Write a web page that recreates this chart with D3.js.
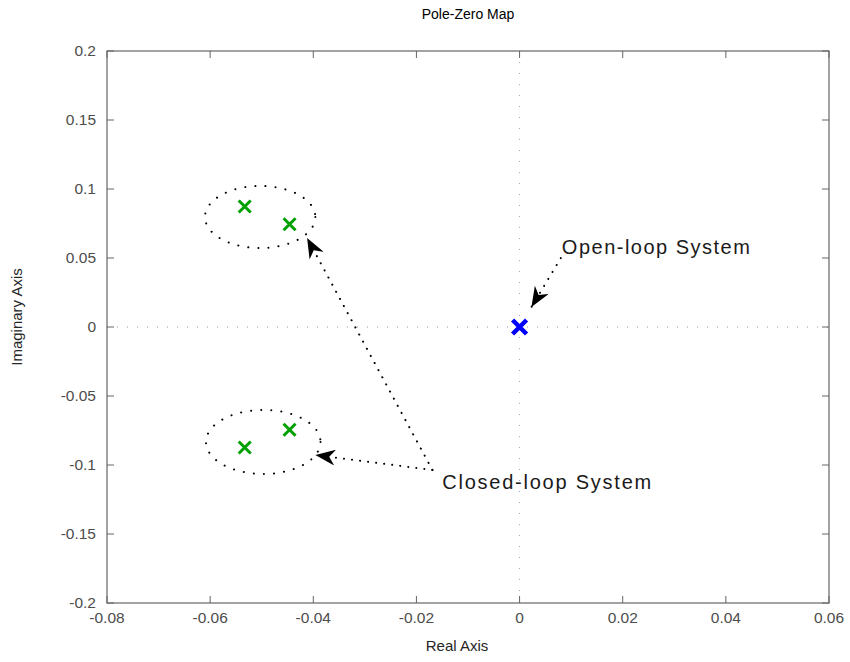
<!DOCTYPE html>
<html lang="en">
<head>
<meta charset="UTF-8">
<title>Pole-Zero Map</title>
<script src="https://d3js.org/d3.v7.min.js"></script>
<style>
  body { margin: 0; background: #fff; }
  svg { font-family: "Liberation Sans", Arial, Helvetica, sans-serif; }
  .tick-label { fill: #4d4d4d; font-size: 15.5px; }
  .axis-label { fill: #262626; font-size: 15px; }
</style>
</head>
<body>
<svg id="chart" width="850" height="662"></svg>
<script>
// closed-loop poles (green) and open-loop poles (blue)
var closedRe = [-0.0533, -0.0446, -0.0533, -0.0446];
var closedIm = [0.0873, 0.0745, -0.0873, -0.0745];
var openRe = [0];
var openIm = [0];

// ticks
var xTicks = [-0.08, -0.06, -0.04, -0.02, 0, 0.02, 0.04, 0.06];
var yTicks = [-0.2, -0.15, -0.1, -0.05, 0, 0.05, 0.1, 0.15, 0.2];

// dotted ellipses round the closed-loop pole pairs (centre, radii in data units)
var ellCx = [-0.0503, -0.0497];
var ellCy = [0.0797, -0.0833];
var ellRx = [0.0107, 0.0111];
var ellRy = [0.0225, 0.0232];

// annotation arrows: from (x1,y1) to (x2,y2)
var arrX1 = [-0.0169, -0.0169, 0.0080];
var arrY1 = [-0.1036, -0.1036, 0.0500];
var arrX2 = [-0.0412, -0.0396, 0.0023];
var arrY2 = [0.0645, -0.0928, 0.0145];

// annotation texts
var noteText = ["Open-loop System", "Closed-loop System"];
var noteX = [0.0082, -0.0150];
var noteY = [0.0530, -0.1174];

var svg = d3.select("#chart");
var margin = {left: 107, right: 21, top: 51, bottom: 59};
var W = 850 - margin.left - margin.right,
    H = 662 - margin.top - margin.bottom;

var x = d3.scaleLinear().domain([-0.08, 0.06]).range([0, W]);
var y = d3.scaleLinear().domain([-0.2, 0.2]).range([H, 0]);

var g = svg.append("g").attr("transform", "translate(" + margin.left + "," + margin.top + ")");

var defs = svg.append("defs");
defs.append("marker")
    .attr("id", "head")
    .attr("viewBox", "0 0 20 16")
    .attr("refX", 20).attr("refY", 8)
    .attr("markerWidth", 20).attr("markerHeight", 16)
    .attr("markerUnits", "userSpaceOnUse")
    .attr("orient", "auto")
  .append("path")
    .attr("d", "M0,0 L20,8 L0,16 L6,8 Z")
    .attr("fill", "#000");

// background
g.append("rect").attr("width", W).attr("height", H).attr("fill", "#fff");

// zero lines
g.append("line")
    .attr("x1", 0).attr("x2", W).attr("y1", y(0)).attr("y2", y(0))
    .attr("stroke", "#9a9a9a").attr("stroke-width", 1).attr("stroke-dasharray", "1,9");
g.append("line")
    .attr("x1", x(0)).attr("x2", x(0)).attr("y1", 0).attr("y2", H)
    .attr("stroke", "#9a9ac0").attr("stroke-width", 1).attr("stroke-dasharray", "1,10");

// axes with inward ticks on all four sides
var tickLen = 7;
var axisColor = "#666";
var frame = g.append("g");
frame.append("rect").attr("width", W).attr("height", H)
    .attr("fill", "none").attr("stroke", axisColor).attr("stroke-width", 1.2);

xTicks.forEach(function(t) {
  frame.append("line").attr("x1", x(t)).attr("x2", x(t)).attr("y1", H).attr("y2", H - tickLen)
      .attr("stroke", axisColor);
  frame.append("line").attr("x1", x(t)).attr("x2", x(t)).attr("y1", 0).attr("y2", tickLen)
      .attr("stroke", axisColor);
});
yTicks.forEach(function(t) {
  frame.append("line").attr("x1", 0).attr("x2", tickLen).attr("y1", y(t)).attr("y2", y(t))
      .attr("stroke", axisColor);
  frame.append("line").attr("x1", W).attr("x2", W - tickLen).attr("y1", y(t)).attr("y2", y(t))
      .attr("stroke", axisColor);
});

var fmt = function(t) { return t === 0 ? "0" : String(+t.toFixed(2)); };

g.selectAll(".xlab").data(xTicks).enter().append("text")
    .attr("class", "tick-label")
    .attr("x", function(d) { return x(d); })
    .attr("y", H + 20)
    .attr("text-anchor", "middle")
    .text(fmt);

g.selectAll(".ylab").data(yTicks).enter().append("text")
    .attr("class", "tick-label")
    .attr("x", -11)
    .attr("y", function(d) { return y(d) + 5; })
    .attr("text-anchor", "end")
    .text(fmt);

// titles
svg.append("text")
    .attr("x", margin.left + W / 2).attr("y", 19)
    .attr("text-anchor", "middle")
    .attr("font-size", 14).attr("fill", "#000")
    .text("Pole-Zero Map");

svg.append("text")
    .attr("class", "axis-label")
    .attr("x", margin.left + W / 2 - 11).attr("y", 651)
    .attr("text-anchor", "middle")
    .text("Real Axis");

svg.append("text")
    .attr("class", "axis-label")
    .attr("transform", "translate(22," + (margin.top + H / 2 - 10) + ") rotate(-90)")
    .attr("text-anchor", "middle")
    .text("Imaginary Axis");

// ellipses
ellCx.forEach(function(cx, i) {
  g.append("ellipse")
      .attr("cx", x(cx)).attr("cy", y(ellCy[i]))
      .attr("rx", x(cx + ellRx[i]) - x(cx))
      .attr("ry", y(0) - y(ellRy[i]))
      .attr("fill", "none").attr("stroke", "#000")
      .attr("stroke-width", 2).attr("stroke-linecap", "round")
      .attr("stroke-dasharray", "0.1,10");
});

// arrows
arrX1.forEach(function(x1, i) {
  g.append("line")
      .attr("x1", x(x1)).attr("y1", y(arrY1[i]))
      .attr("x2", x(arrX2[i])).attr("y2", y(arrY2[i]))
      .attr("stroke", "#000").attr("stroke-width", 2).attr("stroke-linecap", "round")
      .attr("stroke-dasharray", "0.1,8")
      .attr("marker-end", "url(#head)");
});

// annotation text
noteText.forEach(function(t, i) {
  g.append("text")
      .attr("x", x(noteX[i])).attr("y", y(noteY[i]))
      .attr("font-size", 20).attr("fill", "#1a1a1a")
      .attr("textLength", i === 0 ? 188 : 209)
      .text(t);
});

// pole markers
function cross(sel, cx, cy, s, color, w) {
  sel.append("path")
      .attr("d", "M" + (cx - s) + "," + (cy - s) + "L" + (cx + s) + "," + (cy + s) +
                 "M" + (cx - s) + "," + (cy + s) + "L" + (cx + s) + "," + (cy - s))
      .attr("stroke", color).attr("stroke-width", w).attr("fill", "none");
}

closedRe.forEach(function(re, i) {
  cross(g, x(re), y(closedIm[i]), 6, "#00a000", 3);
});
openRe.forEach(function(re, i) {
  cross(g, x(re), y(openIm[i]), 7, "#0000ff", 4.5);
});
</script>
</body>
</html>
